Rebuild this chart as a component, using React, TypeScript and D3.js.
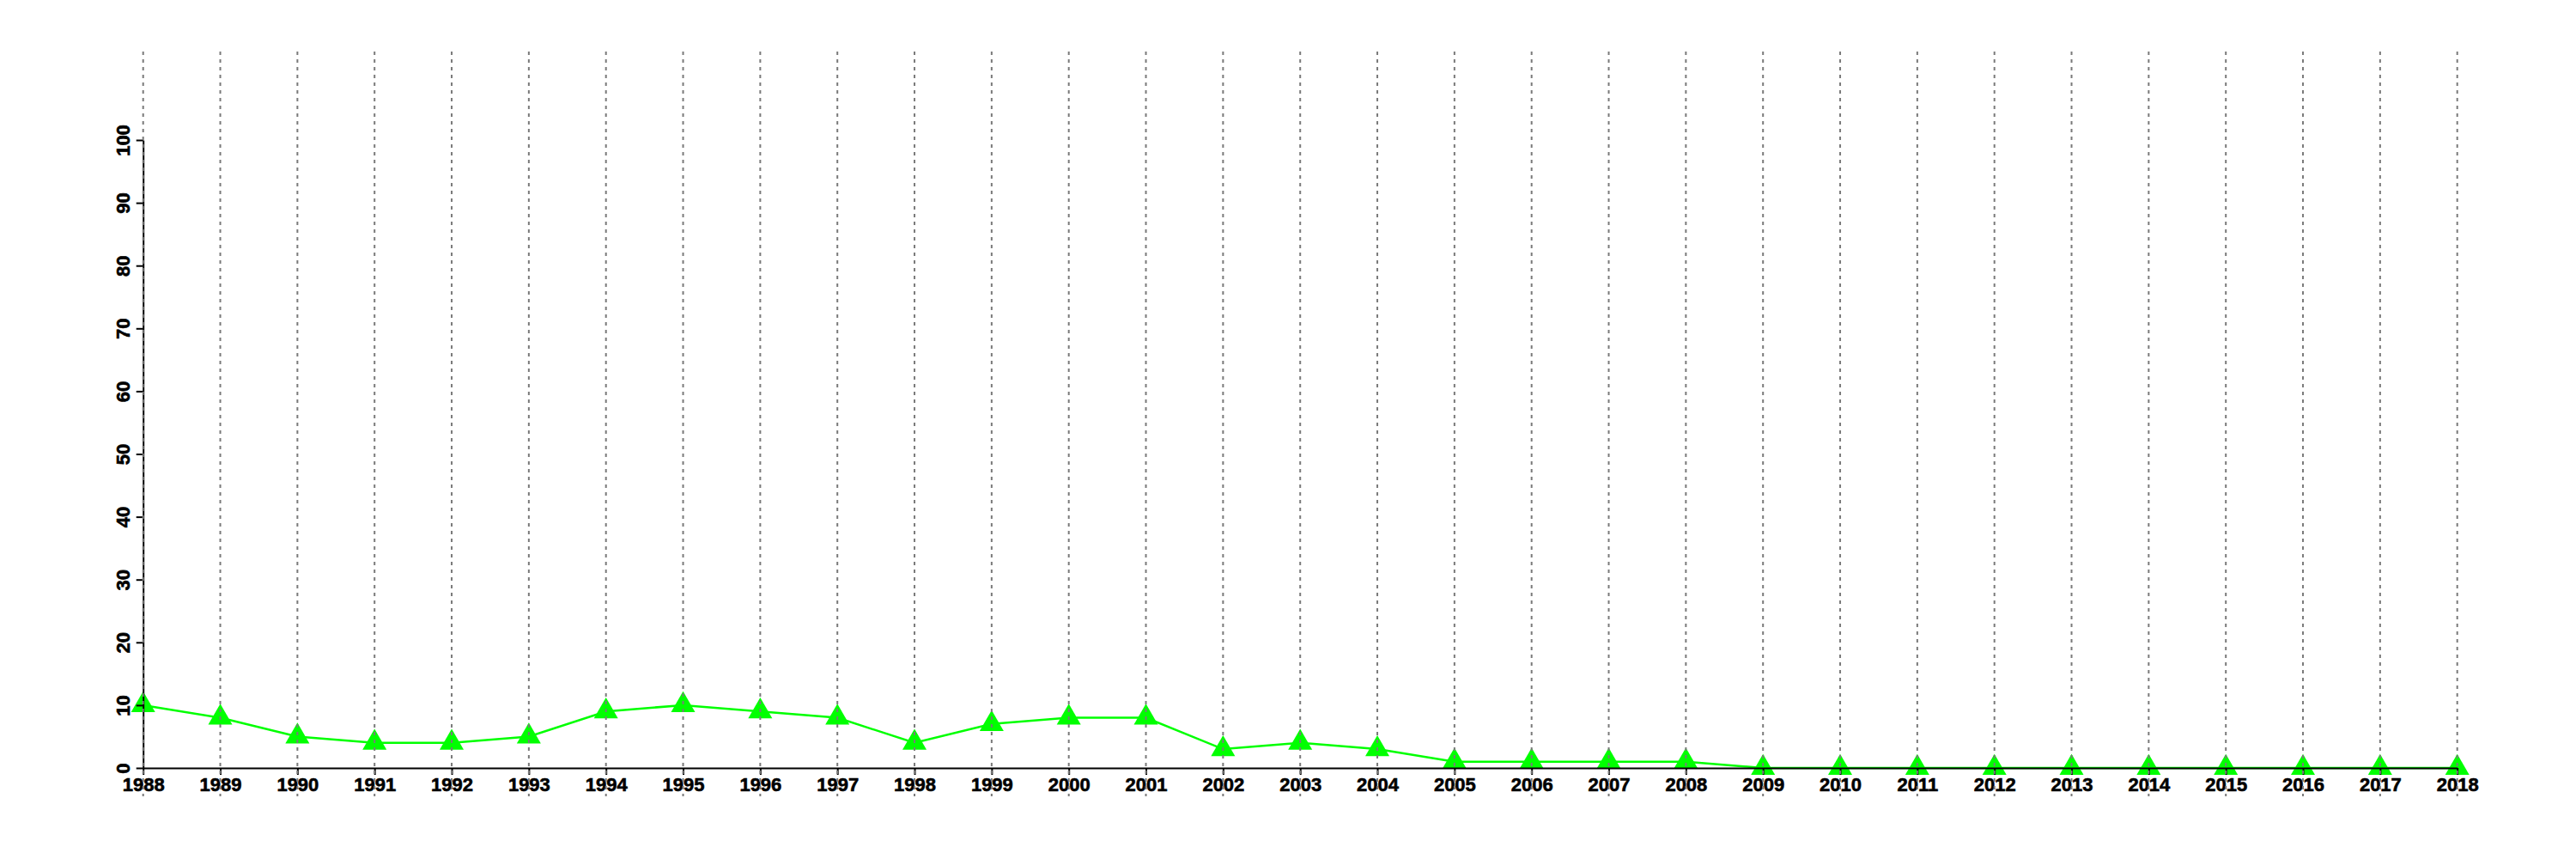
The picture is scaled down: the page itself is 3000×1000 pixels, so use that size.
import React, { useEffect, useRef } from 'react';
import * as d3 from 'd3';

// yearly values
const years = [
  1988, 1989, 1990, 1991, 1992, 1993, 1994, 1995, 1996, 1997,
  1998, 1999, 2000, 2001, 2002, 2003, 2004, 2005, 2006, 2007,
  2008, 2009, 2010, 2011, 2012, 2013, 2014, 2015, 2016, 2017, 2018,
];
const values = [
  10, 8, 5, 4, 4, 5, 9, 10, 9, 8,
  4, 7, 8, 8, 3, 4, 3, 1, 1, 1,
  1, 0, 0, 0, 0, 0, 0, 0, 0, 0, 0,
];
const yTicks = [0, 10, 20, 30, 40, 50, 60, 70, 80, 90, 100];

const WIDTH = 3000;
const HEIGHT = 1000;
const FONT = '"Liberation Sans", Arial, Helvetica, sans-serif';
const GREEN = '#00ff00';

export default function App() {
  const svgRef = useRef<SVGSVGElement>(null);

  useEffect(() => {
    if (!svgRef.current) return;
    const svg = d3.select(svgRef.current);
    svg.selectAll('*').remove();

    const x = d3.scaleLinear().domain([1988, 2018]).range([166.7, 2861.7]);
    const y = d3.scaleLinear().domain([0, 100]).range([894, 163]);
    const gridTop = 60;
    const gridBottom = 927;

    const data = years.map((yr, i) => ({ year: yr, value: values[i] }));

    // series line
    const line = d3.line<{ year: number; value: number }>()
      .x(d => x(d.year))
      .y(d => y(d.value));

    svg.append('path')
      .datum(data)
      .attr('d', line)
      .attr('fill', 'none')
      .attr('stroke', GREEN)
      .attr('stroke-width', 2.5);

    // triangle markers
    const tri = d3.symbol().type(d3.symbolTriangle).size(340);
    svg.selectAll('.pt')
      .data(data)
      .enter()
      .append('path')
      .attr('class', 'pt')
      .attr('d', tri)
      .attr('transform', d => `translate(${x(d.year)},${y(d.value)})`)
      .attr('fill', GREEN);

    // y axis
    const yAxis = svg.append('g')
      .attr('transform', `translate(${x(1988)},0)`)
      .call(d3.axisLeft(y).tickValues(yTicks).tickSize(8).tickSizeOuter(0))
      .attr('font-family', FONT)
      .attr('font-size', 22)
      .attr('font-weight', 'bold');
    yAxis.select('.domain').attr('stroke', '#000').attr('stroke-width', 2);
    yAxis.selectAll('.tick line').attr('stroke', '#000').attr('stroke-width', 2);
    yAxis.selectAll('.tick text')
      .attr('x', null)
      .attr('dy', null)
      .attr('transform', 'translate(-16,0) rotate(-90)')
      .attr('text-anchor', 'middle')
      .attr('fill', '#000')
      .attr('stroke', '#000')
      .attr('stroke-width', 0.6)
      .attr('font-size', 22);

    // x axis
    const xAxis = svg.append('g')
      .attr('transform', `translate(0,${y(0)})`)
      .call(
        d3.axisBottom(x)
          .tickValues(years)
          .tickFormat(d3.format('d'))
          .tickSize(8)
          .tickSizeOuter(0)
          .tickPadding(3)
      )
      .attr('font-family', FONT)
      .attr('font-size', 22)
      .attr('font-weight', 'bold');
    xAxis.select('.domain').attr('stroke', '#000').attr('stroke-width', 2);
    xAxis.selectAll('.tick line').attr('stroke', '#000').attr('stroke-width', 2);
    xAxis.selectAll('.tick text')
      .attr('fill', '#000')
      .attr('stroke', '#000')
      .attr('stroke-width', 0.6)
      .attr('font-size', 22);

    // dotted vertical guides at every year
    svg.selectAll('.grid')
      .data(years)
      .enter()
      .append('line')
      .attr('class', 'grid')
      .attr('x1', d => x(d))
      .attr('x2', d => x(d))
      .attr('y1', gridTop)
      .attr('y2', gridBottom)
      .attr('stroke', '#7a7a7a')
      .attr('stroke-width', 2)
      .attr('stroke-dasharray', '4,5');
  }, []);

  return (
    <div style={{ position: 'absolute', left: 0, top: 0, background: '#fff' }}>
      <svg ref={svgRef} width={WIDTH} height={HEIGHT} style={{ display: 'block' }}></svg>
    </div>
  );
}
